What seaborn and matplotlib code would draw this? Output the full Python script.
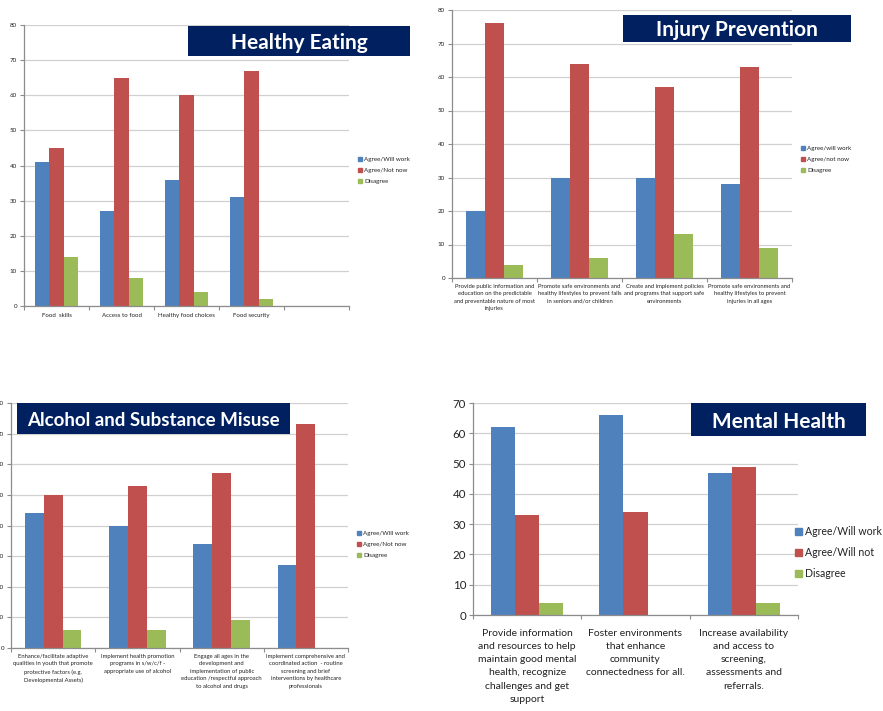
import matplotlib
matplotlib.use("Agg")
import matplotlib.pyplot as plt
import seaborn as sns
import pandas as pd
import numpy as np
from matplotlib.patches import Rectangle
from matplotlib.ticker import FixedLocator

# ---------------- data ----------------
he_title = "Healthy Eating"
he_cats = ["Food  skills", "Access to food", "Healthy food choices", "Food security"]
he_series = ["Agree/Will work", "Agree/Not now", "Disagree"]
he_will = [41, 27, 36, 31]
he_not = [45, 65, 60, 67]
he_dis = [14, 8, 4, 2]

ip_title = "Injury Prevention"
ip_cats = ["Provide public information and\neducation on the predictable\nand preventable nature of most\ninjuries",
           "Promote safe environments and\nhealthy lifestyles to prevent falls\nin seniors and/or children",
           "Create and implement policies\nand programs that support safe\nenvironments",
           "Promote safe environments and\nhealthy lifestyles to prevent\ninjuries in all ages"]
ip_series = ["Agree/will work", "Agree/not now", "Disagree"]
ip_will = [20, 30, 30, 28]
ip_not = [76, 64, 57, 63]
ip_dis = [4, 6, 13, 9]

as_title = "Alcohol and Substance Misuse"
as_cats = ["Enhance/facilitate adaptive\nqualities in youth that promote\nprotective factors (e.g.\nDevelopmental Assets)",
           "Implement health promotion\nprograms in s/w/c/f -\nappropriate use of alcohol",
           "Engage all ages in the\ndevelopment and\nimplementation of public\neducation /respectful approach\nto alcohol and drugs",
           "Implement comprehensive and\ncoordinated action  - routine\nscreening and brief\ninterventions by healthcare\nprofessionals"]
as_series = ["Agree/Will work", "Agree/Not now", "Disagree"]
as_will = [44, 40, 34, 27]
as_not = [50, 53, 57, 73]
as_dis = [6, 6, 9, 0]

mh_title = "Mental Health"
mh_cats = ["Provide information\nand resources to help\nmaintain good mental\nhealth, recognize\nchallenges and get\nsupport",
           "Foster environments\nthat enhance\ncommunity\nconnectedness for all.",
           "Increase availability\nand access to\nscreening,\nassessments and\nreferrals."]
mh_series = ["Agree/Will work", "Agree/Will not", "Disagree"]
mh_will = [62, 66, 47]
mh_not = [33, 34, 49]
mh_dis = [4, 0, 4]

colors = ["#4F81BD", "#C0504D", "#9BBB59"]
navy = "#002060"

W, H = 883, 711
sns.set_theme(style="white")
plt.rcParams["font.family"] = ["Lato", "DejaVu Sans"]

fig = plt.figure(figsize=(W / 100, H / 100), dpi=100)


def rect(l, r, t, b):
    return [l / W, 1 - b / H, (r - l) / W, (b - t) / H]


def make_df(cats, series, a, b, c):
    rows = []
    for s, vals in zip(series, [a, b, c]):
        for cat, v in zip(cats, vals):
            rows.append({"cat": cat, "series": s, "value": v})
    return pd.DataFrame(rows)


def panel(box, cats, series, a, b, c, ymax, nslots, fs, xfs, xls, xpad, title, tbox, tfs,
          leg_xy, leg_fs, leg_sp):
    ax = fig.add_axes(rect(*box))
    df = make_df(cats, series, a, b, c)
    sns.barplot(data=df, x="cat", y="value", hue="series", order=cats,
                hue_order=series, palette=colors, width=0.67, saturation=1,
                ax=ax, linewidth=0, errorbar=None)
    ax.set_xlim(-0.5, nslots - 0.5)
    ax.set_ylim(0, ymax)
    ax.set_yticks(np.arange(0, ymax + 1, 10))
    ax.yaxis.grid(True, color="#D0D0D0", linewidth=0.9)
    ax.set_axisbelow(True)
    ax.set_xlabel("")
    ax.set_ylabel("")
    for s in ["top", "right"]:
        ax.spines[s].set_visible(False)
    for s in ["left", "bottom"]:
        ax.spines[s].set_color("#8C8C8C")
        ax.spines[s].set_linewidth(0.9)
    ax.tick_params(axis="y", labelsize=fs, length=3, width=0.8, color="#8C8C8C", pad=2,
                   left=True, labelcolor="#222222")
    ax.tick_params(axis="x", which="major", labelsize=xfs, length=0, pad=xpad, labelcolor="#222222")
    ax.xaxis.set_minor_locator(FixedLocator(np.arange(-0.5, nslots, 1.0)))
    ax.tick_params(axis="x", which="minor", length=3, width=0.8, color="#8C8C8C", bottom=True)
    ax.set_xticks(range(len(cats)))
    ax.set_xticklabels(cats, linespacing=xls)
    ax.legend_.remove()
    handles = [plt.Rectangle((0, 0), 1, 1, color=col) for col in colors]
    fig.legend(handles, series, loc="upper left",
               bbox_to_anchor=(leg_xy[0] / W, 1 - leg_xy[1] / H),
               frameon=False, fontsize=leg_fs, handlelength=0.7, handleheight=0.7,
               handletextpad=0.25, labelspacing=leg_sp, borderaxespad=0, borderpad=0,
               labelcolor="#222222")
    l, r, t, b = tbox
    fig.patches.append(Rectangle((l / W, 1 - b / H), (r - l) / W, (b - t) / H,
                                 transform=fig.transFigure, facecolor=navy,
                                 edgecolor="none", zorder=10))
    fig.text((l + r) / 2 / W, 1 - (t + b) / 2 / H, title, color="white",
             fontsize=tfs, fontweight="bold", ha="center", va="center_baseline", zorder=11)
    return ax


panel((24, 349, 25, 306), he_cats, he_series, he_will, he_not, he_dis, 80, 5, 4.5, 4.4, 1.25, 5,
      he_title, (188, 410, 26, 56), 15, (358, 157), 4.5, 0.9)
panel((452, 792, 10, 278), ip_cats, ip_series, ip_will, ip_not, ip_dis, 80, 4, 4.5, 4.2, 1.65, 4,
      ip_title, (623, 851, 15, 42), 15, (801, 146), 4.5, 0.9)
panel((11, 348, 403, 648), as_cats, as_series, as_will, as_not, as_dis, 80, 4, 4.5, 4.2, 1.65, 4,
      as_title, (17, 290, 403, 434), 13.5, (357, 531), 4.5, 0.9)
panel((473, 798, 403, 615), mh_cats, mh_series, mh_will, mh_not, mh_dis, 70, 3, 8.3, 7.5, 1.6, 10,
      mh_title, (691, 866, 403, 436), 15, (795, 526), 7.6, 0.95)

fig.savefig("out.png", dpi=100)
